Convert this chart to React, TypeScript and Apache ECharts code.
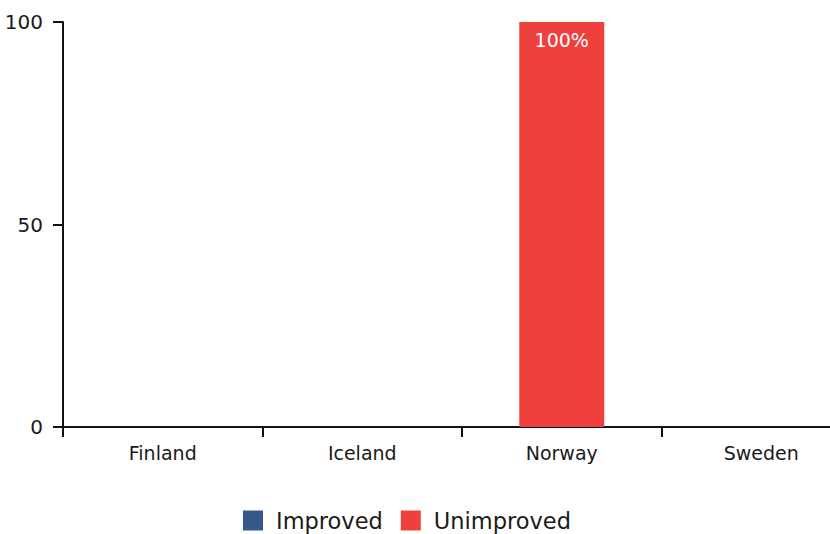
import React, { useEffect, useRef } from "react";
import * as echarts from "echarts";

const categories = ["Finland", "Iceland", "Norway", "Sweden"];
const improved = [0, 0, 0, 0];
const unimproved = [0, 0, 100, 0];
const yTicks = [0, 50, 100];

const FONT = "'DejaVu Sans', sans-serif";
const TEXT = "#1a1a1a";

export default function App() {
  const ref = useRef<HTMLDivElement>(null);
  useEffect(() => {
    if (!ref.current) return;
    const chart = echarts.init(ref.current, null, { renderer: "svg" });
    const labelFmt = (p: any) => (p.value ? `${p.value}%` : "");
    chart.setOption({
      animation: false,
      textStyle: { fontFamily: FONT },
      grid: { left: 63, top: 22, width: 798, height: 405, containLabel: false, outerBoundsMode: "none" },
      legend: {
        top: 504,
        left: 238,
        itemWidth: 20,
        itemHeight: 20,
        itemGap: 18,
        icon: "rect",
        textStyle: { fontSize: 22.5, color: TEXT, fontFamily: FONT, padding: [0, 0, 0, 8] },
        data: ["Improved", "Unimproved"],
      },
      xAxis: {
        type: "category",
        data: categories,
        axisLine: { lineStyle: { color: "#111", width: 2 } },
        axisTick: { show: true, length: 10, lineStyle: { color: "#111", width: 2 } },
        axisLabel: { fontSize: 19, color: TEXT, margin: 16, fontFamily: FONT },
      },
      yAxis: {
        type: "value",
        min: 0,
        max: yTicks[yTicks.length - 1],
        interval: 50,
        splitLine: { show: false },
        axisLine: { show: true, lineStyle: { color: "#111", width: 2 } },
        axisTick: { show: true, length: 10, lineStyle: { color: "#111", width: 2 } },
        axisLabel: { fontSize: 20, color: TEXT, margin: 20, fontFamily: FONT },
      },
      series: [
        {
          name: "Improved",
          type: "bar",
          stack: "total",
          barWidth: 85,
          data: improved,
          itemStyle: { color: "#34598A" },
          label: { show: true, position: "insideTop", color: "#fff", fontSize: 19, formatter: labelFmt, fontFamily: FONT },
        },
        {
          name: "Unimproved",
          type: "bar",
          stack: "total",
          barWidth: 85,
          data: unimproved,
          itemStyle: { color: "#EF403D" },
          label: { show: true, position: "insideTop", distance: 8, color: "#fff", fontSize: 19, formatter: labelFmt, fontFamily: FONT },
        },
      ],
    });
    return () => chart.dispose();
  }, []);
  return (
    <div style={{ position: "absolute", left: 0, top: 0, width: 830, height: 534, overflow: "hidden" }}>
      <div ref={ref} style={{ width: 880, height: 534 }} />
    </div>
  );
}
